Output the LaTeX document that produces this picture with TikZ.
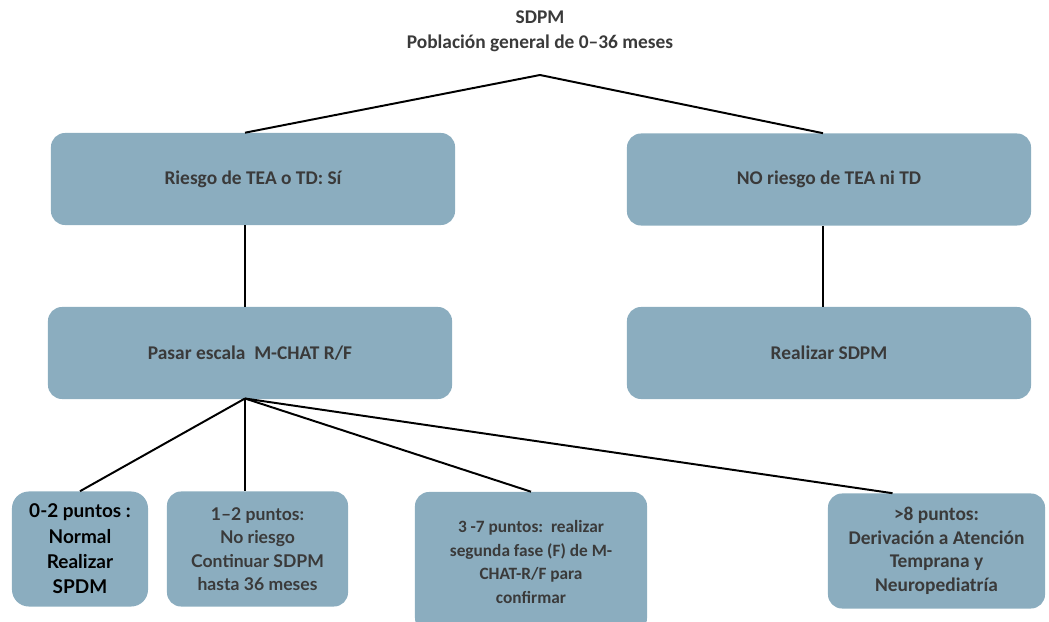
\documentclass[tikz,border=0pt]{standalone}
\usepackage{fontspec}
\setmainfont{Carlito}
\newfontfamily\lexfont{Lato}
\usepackage{tikz}
\usetikzlibrary{shapes,arrows,positioning,calc}
\definecolor{boxblue}{RGB}{139,173,191}
\definecolor{txtgray}{RGB}{58,58,58}
\tikzstyle{bbox} = [rectangle, rounded corners=10pt, fill=boxblue, draw=none, align=center, text=txtgray, font=\fontsize{13.8}{16.7}\selectfont\bfseries, inner sep=2pt]
\tikzstyle{sbox} = [bbox, font=\lexfont\fontsize{13.5}{18}\selectfont\bfseries]
\tikzstyle{line} = [draw, line width=1.4pt]

\begin{document}
\begin{tikzpicture}[x=0.025cm, y=-0.025cm]
			\useasboundingbox (0,0) rectangle (1049,622);
			\node [align=center, text=txtgray, font=\fontsize{13.8}{17.5}\selectfont\bfseries] (title) at (540,31) {SDPM\\Población general de 0–36 meses};
			\coordinate (apex) at (540,75);
			
			\node [bbox, minimum width=10.1cm, minimum height=2.3cm] (riesgo) at (253,179) {Riesgo de TEA o TD: Sí};
			\node [bbox, minimum width=10.1cm, minimum height=2.3cm] (noriesgo) at (829,179.5) {NO riesgo de TEA ni TD};
			\node [bbox, minimum width=10.1cm, minimum height=2.3cm] (mchat) at (250,353) {Pasar escala~~M-CHAT R/F};
			\node [bbox, minimum width=10.1cm, minimum height=2.3cm] (realizar) at (829,353) {Realizar SDPM};
			\coordinate (fan) at (245,398.5);
			
			\node [sbox, text=black, minimum width=3.4cm, minimum height=2.875cm, rounded corners=12pt] (normal) at (80,549) {0-2 puntos :\\Normal\\Realizar\\SPDM};
			\node [sbox, minimum width=4.525cm, minimum height=2.875cm, font=\lexfont\fontsize{12.5}{16.7}\selectfont\bfseries] (continuar) at (257.5,549) {1–2 puntos:\\No riesgo\\Continuar SDPM\\hasta 36 meses};
			\node [bbox, minimum width=5.8cm, minimum height=3.5cm, font=\fontsize{12.3}{16.7}\selectfont\bfseries] (segunda) at (531,562) {3 -7 puntos:~~realizar\\segunda fase (F) de M-\\CHAT-R/F para\\confirmar};
			\node [bbox, minimum width=5.425cm, minimum height=2.875cm] (derivacion) at (936.5,551) {>8 puntos:\\Derivación a Atención\\Temprana y\\Neuropediatría};
			
			\path [line] (apex) -- ($(riesgo.north)+(-8,0)$);
			\path [line] (apex) -- ($(noriesgo.north)+(-6,0)$);
			\path [line] ($(riesgo.south)+(-8,0)$) -- (mchat.north -| fan);
			\path [line] ($(noriesgo.south)+(-6,0)$) -- ($(realizar.north)+(-6,0)$);
			\path [line] (fan) -- (normal.north);
			\path [line] (fan) -- (continuar.north -| fan);
			\path [line] (fan) -- (segunda.north);
			\path [line] (fan) -- ($(derivacion.north)+(-44,0)$);
		\end{tikzpicture}
\end{document}
